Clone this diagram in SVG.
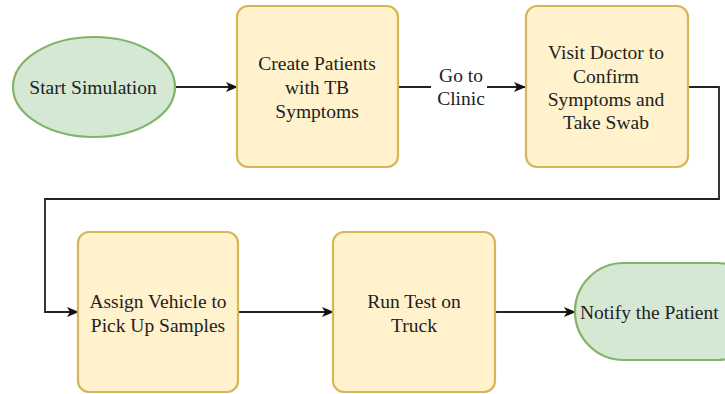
<svg xmlns="http://www.w3.org/2000/svg" width="725" height="394" viewBox="0 0 725 394">
  <defs>
    <marker id="arrow" viewBox="0 0 12 10" refX="11" refY="5" markerWidth="12" markerHeight="10" markerUnits="userSpaceOnUse" orient="auto">
      <path d="M0,0 L12,5 L0,10 L3,5 Z" fill="#111"/>
    </marker>
    <style>
      .proc { fill: #fff2cc; stroke: #d6b656; stroke-width: 2.2; }
      .term { fill: #d5e8d4; stroke: #82b366; stroke-width: 2.2; }
      text { font-family: 'Liberation Serif', 'Times New Roman', serif; font-size: 19.5px; fill: #222; text-anchor: middle; }
      .edge { fill: none; stroke: #222; stroke-width: 1.8; }
    </style>
  </defs>
  <rect width="725" height="394" fill="#ffffff"/>

  <!-- connectors -->
  <g id="connectors">
    <path class="edge" d="M175,87 L237,87" marker-end="url(#arrow)"/>
    <path class="edge" d="M398,87 L431,87"/>
    <path class="edge" d="M487,87 L525,87" marker-end="url(#arrow)"/>
    <path class="edge" d="M688,87 L719,87 L719,199 L45,199 L45,312 L78,312" marker-end="url(#arrow)"/>
    <path class="edge" d="M238,312 L333,312" marker-end="url(#arrow)"/>
    <path class="edge" d="M495,312 L575,312" marker-end="url(#arrow)"/>
    <g id="edge-label">
      <text x="461" y="82">Go to</text>
      <text x="461" y="105">Clinic</text>
    </g>
  </g>

  <g id="start">
    <ellipse class="term" cx="94" cy="87" rx="81" ry="50"/>
    <text x="93" y="94">Start Simulation</text>
  </g>

  <g id="create-patients">
    <rect class="proc" x="237" y="6" width="161" height="161" rx="11"/>
    <text x="317" y="70">Create Patients</text>
    <text x="317" y="94">with TB</text>
    <text x="317" y="118">Symptoms</text>
  </g>

  <g id="visit-doctor">
    <rect class="proc" x="526" y="6" width="162" height="161" rx="11"/>
    <text x="606" y="59">Visit Doctor to</text>
    <text x="606" y="82.5">Confirm</text>
    <text x="606" y="106">Symptoms and</text>
    <text x="606" y="129">Take Swab</text>
  </g>

  <g id="assign-vehicle">
    <rect class="proc" x="78" y="232" width="160" height="160" rx="11"/>
    <text x="158" y="308">Assign Vehicle to</text>
    <text x="158" y="332">Pick Up Samples</text>
  </g>

  <g id="run-test">
    <rect class="proc" x="333" y="232" width="162" height="160" rx="11"/>
    <text x="414" y="308">Run Test on</text>
    <text x="414" y="332">Truck</text>
  </g>

  <g id="notify">
    <rect class="term" x="575" y="263" width="190" height="97" rx="48.5"/>
    <text x="580" y="319" style="text-anchor:start">Notify the Patient</text>
  </g>
</svg>
